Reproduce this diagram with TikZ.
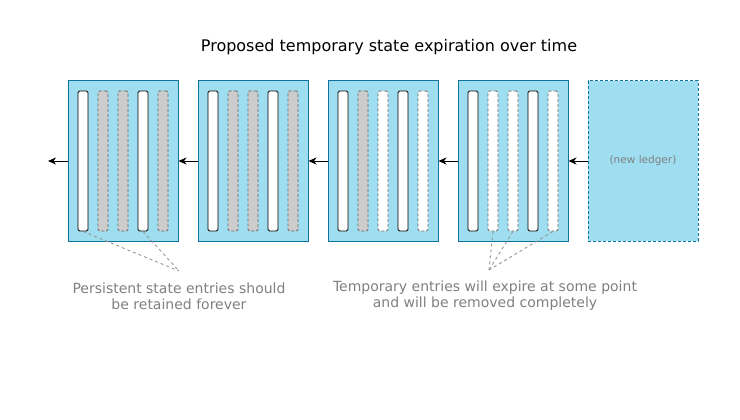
\documentclass[tikz,border=0pt]{standalone}
\usepackage{fontspec}
\setmainfont{DejaVu Sans}
\usetikzlibrary{arrows.meta}

\begin{document}
\begin{tikzpicture}[x=1pt, y=-1pt,
    ledger/.style={draw=ledgerline, fill=ledgerfill, line width=1pt, minimum width=110pt, minimum height=160pt, inner sep=0pt},
    bar/.style={line width=0.9pt, rounded corners=1.5pt, minimum width=10pt, minimum height=140pt, inner sep=0pt},
    kept/.style={bar, draw=black, fill=white},
    held/.style={bar, draw=dashline, fill=heldgray, dash pattern=on 3pt off 2pt},
    gone/.style={bar, draw=dashline, fill=white, dash pattern=on 3pt off 2pt},
    flow/.style={-{Stealth[length=8pt, width=7pt, inset=2.5pt]}, line width=1pt},
    pointer/.style={draw=pointergray, line width=0.9pt, dash pattern=on 3pt off 3pt},
    note/.style={text=notegray, align=center, font=\fontsize{14}{16}\selectfont}]
    % Define colors
    \definecolor{ledgerfill}{RGB}{158,222,240}
    \definecolor{ledgerline}{RGB}{16,115,158}
    \definecolor{heldgray}{RGB}{204,204,204}
    \definecolor{dashline}{RGB}{102,102,102}
    \definecolor{pointergray}{RGB}{150,150,150}
    \definecolor{notegray}{RGB}{128,128,128}

    \useasboundingbox (0,0) rectangle (740,420);

    % Title
    \node[font=\fontsize{16}{19}\selectfont] (title) at (389,47) {Proposed temporary state expiration over time};

    % Draw ledgers with their entries
    \foreach \n/\cx/\kinds in {1/123/{kept,held,held,kept,held}, 2/253/{kept,held,held,kept,held},
                              3/383/{kept,held,gone,kept,gone}, 4/513/{kept,gone,gone,kept,gone}}
        {
        \node[ledger] (ledger\n) at (\cx,161) {};
        \foreach \k [count=\j] in \kinds
            \node[\k] (bar\n\j) at ({\cx-60+20*\j},161) {};
    }
    \node[ledger, dash pattern=on 3pt off 2pt] (ledger5) at (643,161)
        {\textcolor{notegray}{\fontsize{10.5}{12}\selectfont (new ledger)}};

    % Draw time arrows
    \foreach \a/\b in {5/4, 4/3, 3/2, 2/1}
        {
        \draw[flow] (ledger\a.west) -- (ledger\b.east);
    }
    \coordinate (past) at (48,161);
    \draw[flow] (ledger1.west) -- (past);

    % Notes
    \node[note] (persistnote) at (179,296) {Persistent state entries should\\be retained forever};
    \node[note] (tempnote) at (485,296) {Temporary entries will expire at some point\\and will be removed completely};

    \coordinate (persisttip) at (179,271);
    \coordinate (temptip) at (489,270);
    \foreach \b in {11, 14}
        \draw[pointer] (bar\b.south) -- (persisttip);
    \foreach \b in {42, 43, 45}
        \draw[pointer] (bar\b.south) -- (temptip);
\end{tikzpicture}
\end{document}
